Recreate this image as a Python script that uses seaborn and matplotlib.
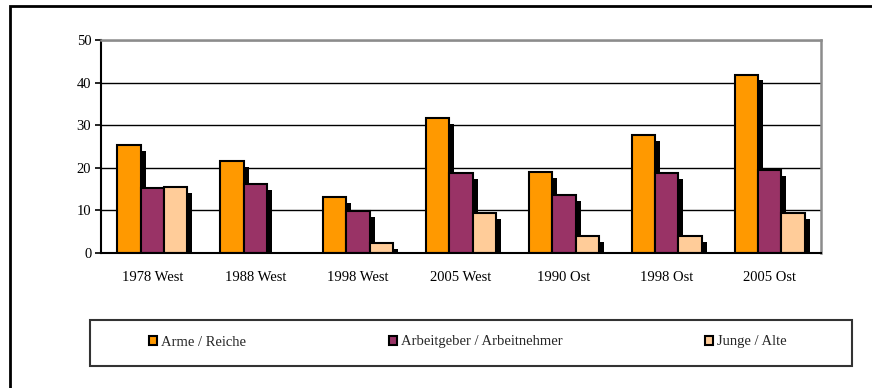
import matplotlib
matplotlib.use("Agg")
import matplotlib.pyplot as plt
import matplotlib.patheffects as pe
from matplotlib.patches import Rectangle, Patch
import seaborn as sns
import pandas as pd
import numpy as np

categories = ["1978 West", "1988 West", "1998 West", "2005 West", "1990 Ost", "1998 Ost", "2005 Ost"]
series_names = ["Arme / Reiche", "Arbeitgeber / Arbeitnehmer", "Junge / Alte"]
arme_reiche = [25.4, 21.5, 13.1, 31.7, 19.0, 27.8, 41.9]
arbeitgeber = [15.2, 16.2, 9.8, 18.8, 13.7, 18.8, 19.4]
junge_alte = [15.5, 0.0, 2.4, 9.4, 4.0, 4.0, 9.4]
colors = ["#FF9900", "#993366", "#FFCC99"]
yticks = [0, 10, 20, 30, 40, 50]

df = pd.DataFrame({
    "Kategorie": categories * 3,
    "Serie": [series_names[0]] * 7 + [series_names[1]] * 7 + [series_names[2]] * 7,
    "Wert": arme_reiche + arbeitgeber + junge_alte,
})

sns.set_style("white")
plt.rcParams["font.family"] = ["Liberation Serif", "DejaVu Serif"]

W, H = 872, 388
fig = plt.figure(figsize=(W / 100, H / 100), dpi=100)
ax = fig.add_axes([101 / W, (H - 253) / H, 720 / W, 213 / H])

sns.barplot(data=df, x="Kategorie", y="Wert", hue="Serie", order=categories,
            hue_order=series_names, palette=colors, width=0.68, ax=ax,
            edgecolor="black", linewidth=1.5, saturation=1, legend=False, errorbar=None)

for p in ax.patches:
    if p.get_height() > 0:
        p.set_path_effects([pe.SimplePatchShadow(offset=(3.6, -4.3), shadow_rgbFace="black", alpha=1.0),
                            pe.Normal()])
    else:
        p.set_visible(False)

ax.set_ylim(0, 50)
ax.set_xlim(-0.5, len(categories) - 0.5)
ax.set_yticks(yticks)
ax.set_yticklabels([str(v) for v in yticks])
ax.set_xlabel("")
ax.set_ylabel("")
ax.set_axisbelow(True)
ax.yaxis.grid(True, color="black", linewidth=1.0)
ax.xaxis.grid(False)

ax.set_xticks(np.arange(-0.5, len(categories), 1.0), minor=True)
ax.tick_params(axis="x", which="major", length=0, pad=13, labelsize=10.5, colors="black")
ax.tick_params(axis="x", which="minor", length=4, width=1.2, direction="out", color="black")
ax.tick_params(axis="y", which="major", length=4, width=1.2, direction="out", labelsize=10.5,
               colors="black", pad=3)
ax.tick_params(left=True, bottom=True)

for side in ["left", "bottom"]:
    ax.spines[side].set_color("black")
    ax.spines[side].set_linewidth(1.5)
    ax.spines[side].set_visible(True)
for side in ["top", "right"]:
    ax.spines[side].set_color("#8c8c8c")
    ax.spines[side].set_linewidth(1.8)
    ax.spines[side].set_visible(True)

# legend box
fig.patches.append(Rectangle((90 / W, (H - 366) / H), 762 / W, 46 / H, transform=fig.transFigure,
                             fill=False, edgecolor="#333333", linewidth=1.5))
handles = [Patch(facecolor=c, edgecolor="black", linewidth=1.5) for c in colors]
fig.legend(handles, series_names, loc="center", bbox_to_anchor=(468 / W, 1 - 342 / H),
           ncol=3, frameon=False, fontsize=10.5, handlelength=0.55, handleheight=0.55,
           handletextpad=0.25, columnspacing=9.8)

# outer border
fig.patches.append(Rectangle((10 / W, -0.1), 1.2, 1 - 6 / H + 0.1, transform=fig.transFigure,
                             fill=False, edgecolor="black", linewidth=2, clip_on=False))

fig.savefig("out.png", dpi=100, facecolor="white")
